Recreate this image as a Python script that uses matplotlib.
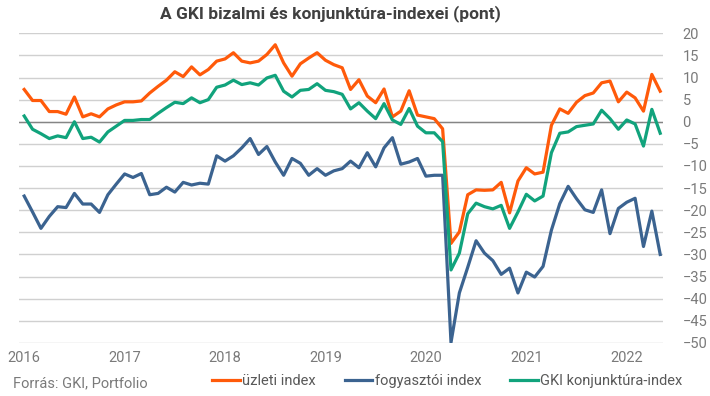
import matplotlib.pyplot as plt

plt.rcParams['font.family'] = ['Roboto', 'DejaVu Sans']

# monthly values, 2016-01 .. 2022-05
uzleti = [7.3, 4.8, 4.8, 2.3, 2.3, 1.7, 5.6, 1.1, 1.8, 1.1, 2.9, 3.8,
          4.5, 4.5, 4.7, 6.5, 8.0, 9.4, 11.3, 10.2, 12.4, 10.6, 11.8, 13.7,
          14.2, 15.6, 13.7, 13.3, 13.7, 15.2, 17.4, 13.3, 10.3, 13.1, 14.4, 15.6,
          13.9, 12.9, 12.2, 7.3, 9.5, 5.8, 4.3, 7.4, 1.1, 2.4, 7.0, 1.5,
          1.1, 0.7, -1.6, -27.5, -24.9, -16.5, -15.4, -15.5, -15.4, -13.7, -20.6, -13.4,
          -10.4, -11.8, -11.4, -0.8, 2.9, 1.9, 4.4, 5.9, 6.5, 8.8, 9.2, 4.5,
          6.7, 5.4, 2.4, 10.7, 6.9]

fogyasztoi = [-16.8, -20.4, -24.1, -21.4, -19.2, -19.4, -16.2, -18.6, -18.6, -20.5, -16.5, -14.1,
              -11.8, -12.6, -11.7, -16.5, -16.2, -14.8, -15.9, -13.7, -14.3, -13.9, -14.1, -7.7,
              -8.9, -7.7, -5.9, -3.8, -7.4, -5.6, -9.1, -12.1, -8.3, -9.4, -12.1, -10.6,
              -12.1, -11.1, -10.6, -8.9, -10.4, -7.0, -10.2, -5.9, -3.6, -9.6, -9.1, -8.3,
              -12.3, -12.1, -12.1, -49.9, -38.7, -32.9, -26.9, -29.7, -31.4, -34.5, -33.1, -38.7,
              -34.0, -35.1, -32.7, -24.5, -18.5, -14.6, -17.4, -19.9, -20.5, -15.4, -25.3, -19.6,
              -18.2, -17.3, -28.2, -20.2, -30.0]

konjunktura = [1.3, -1.7, -2.7, -3.8, -3.2, -3.6, 0.0, -3.8, -3.5, -4.6, -2.3, -1.0,
               0.3, 0.3, 0.5, 0.5, 1.9, 3.2, 4.4, 4.1, 5.4, 4.3, 5.0, 7.8,
               8.3, 9.4, 8.4, 8.8, 8.3, 9.9, 10.5, 6.9, 5.6, 7.1, 7.3, 8.6,
               7.1, 6.8, 6.2, 2.9, 4.3, 2.4, 0.7, 4.1, 0.4, -0.6, 3.0, -1.0,
               -2.5, -2.5, -4.5, -33.5, -29.7, -20.8, -18.4, -19.2, -19.7, -18.9, -24.1, -20.4,
               -16.4, -17.9, -16.8, -7.0, -2.6, -2.3, -1.1, -0.8, -0.5, 2.6, 0.7, -1.7,
               0.4, -0.5, -5.5, 2.8, -2.6]

years = ['2016', '2017', '2018', '2019', '2020', '2021', '2022']

months = list(range(len(uzleti)))

fig = plt.figure(figsize=(7.1, 3.96), dpi=100)
ax = fig.add_axes([0.027, 0.134, 0.907, 0.782])

ax.plot(months, uzleti, c='#ff5a0a', lw=2.3, label='üzleti index', zorder=3)
ax.plot(months, fogyasztoi, c='#3b6390', lw=2.3, label='fogyasztói index', zorder=3)
ax.plot(months, konjunktura, c='#11a37c', lw=2.3, label='GKI konjunktúra-index', zorder=3)

ax.set_ylim(-50, 20)
ax.set_xlim(-0.6, 76.35)
ax.set_yticks(range(-50, 21, 5))
ax.set_xticks(range(0, 73, 12))
ax.set_xticklabels(years)
ax.yaxis.tick_right()
ax.grid(axis='y', color='#d0d0d0', lw=1)
ax.axhline(0, color='#858585', lw=1, zorder=2)
for s in ax.spines.values():
    s.set_visible(False)
ax.tick_params(axis='both', length=0, labelsize=10.5, labelcolor='#7a7a7a')
ax.tick_params(axis='y', pad=14)
ax.tick_params(axis='x', pad=6)
for t in ax.get_yticklabels():
    t.set_horizontalalignment('left')

fig.text(0.465, 0.965, 'A GKI bizalmi és konjunktúra-indexei (pont)', ha='center', va='center',
         fontsize=12.5, fontweight='bold', color='#404040')
fig.text(0.019, 0.033, 'Forrás: GKI, Portfolio', ha='left', va='center', fontsize=10.5, color='#7a7a7a')

leg = fig.legend(loc='center', bbox_to_anchor=(0.63, 0.038), ncol=3, frameon=False,
                 fontsize=10.5, handlelength=1.9, handletextpad=0.15, columnspacing=2.0)
for t in leg.get_texts():
    t.set_color('#595959')

fig.savefig('out.png', dpi=100)
